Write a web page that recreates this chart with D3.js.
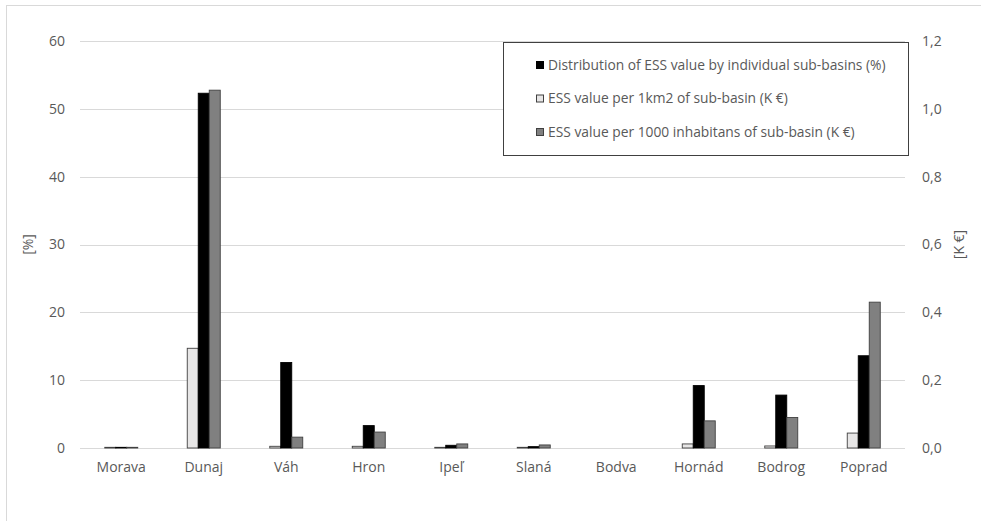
<!DOCTYPE html>
<html>
<head>
<meta charset="utf-8">
<script src="https://cdn.jsdelivr.net/npm/d3@7"></script>
<style>
  html, body { margin: 0; padding: 0; background: #fff; }
  svg { display: block; font-family: "Open Sans", "Liberation Sans", sans-serif; }
</style>
</head>
<body>
<svg id="chart" width="981" height="521"></svg>
<script>
// Sub-basins of Slovakia
const categories = ["Morava", "Dunaj", "Váh", "Hron", "Ipeľ", "Slaná", "Bodva", "Hornád", "Bodrog", "Poprad"];

// Distribution of ESS value by individual sub-basins (%), left axis
const sharePct = [0.1, 52.3, 12.6, 3.3, 0.4, 0.2, 0, 9.2, 7.8, 13.6];
// ESS value per 1 km2 of sub-basin (K €), right axis
const perKm2 = [0.002, 0.294, 0.005, 0.005, 0.002, 0.002, 0, 0.012, 0.006, 0.044];
// ESS value per 1000 inhabitants of sub-basin (K €), right axis
const perInhab = [0.002, 1.055, 0.032, 0.047, 0.012, 0.009, 0, 0.080, 0.090, 0.430];

const leftTicks = [0, 10, 20, 30, 40, 50, 60];
const rightTicks = [0, 0.2, 0.4, 0.6, 0.8, 1.0, 1.2];

const legendLabels = [
  "Distribution of ESS value by individual sub-basins (%)",
  "ESS value per 1km2 of sub-basin (K €)",
  "ESS value per 1000 inhabitans of sub-basin (K €)"
];

const svg = d3.select("#chart");
const textColor = "#595959";
const gridColor = "#d9d9d9";
const fontSize = 14;

// outer chart frame
svg.append("rect")
  .attr("x", 6.5).attr("y", 5.5)
  .attr("width", 1000).attr("height", 600)
  .attr("fill", "none").attr("stroke", gridColor);

const plot = { left: 80, right: 905, top: 41, bottom: 448 };

const x = d3.scaleBand().domain(categories).range([plot.left, plot.right]);
const yL = d3.scaleLinear().domain([0, 60]).range([plot.bottom, plot.top]);
const yR = d3.scaleLinear().domain([0, 1.2]).range([plot.bottom, plot.top]);

// gridlines
svg.append("g")
  .selectAll("line").data(leftTicks).join("line")
  .attr("x1", plot.left).attr("x2", plot.right)
  .attr("y1", d => Math.round(yL(d)) + 0.5).attr("y2", d => Math.round(yL(d)) + 0.5)
  .attr("stroke", gridColor).attr("stroke-width", 1);

// left axis
const axL = svg.append("g")
  .attr("transform", `translate(${plot.left - 15},0)`)
  .call(d3.axisLeft(yL).tickValues(leftTicks).tickSize(0).tickPadding(0).tickFormat(d3.format("d")));
axL.select(".domain").remove();
axL.selectAll("text").attr("fill", textColor).attr("font-size", fontSize).attr("font-family", "Open Sans");

// right axis
const commaFmt = d => d3.format(".1f")(d).replace(".", ",");
const axR = svg.append("g")
  .attr("transform", `translate(${plot.right + 17},0)`)
  .call(d3.axisRight(yR).tickValues(rightTicks).tickSize(0).tickPadding(0).tickFormat(commaFmt));
axR.select(".domain").remove();
axR.selectAll("text").attr("fill", textColor).attr("font-size", fontSize).attr("font-family", "Open Sans");

// category axis
const axB = svg.append("g")
  .attr("transform", `translate(0,${plot.bottom})`)
  .call(d3.axisBottom(x).tickSize(0).tickPadding(14));
axB.select(".domain").remove();
axB.selectAll("text").attr("fill", textColor).attr("font-size", fontSize).attr("font-family", "Open Sans");

// axis titles
svg.append("text")
  .attr("transform", `translate(33,${(plot.top + plot.bottom) / 2}) rotate(-90)`)
  .attr("text-anchor", "middle")
  .attr("fill", textColor).attr("font-size", fontSize)
  .text("[%]");
svg.append("text")
  .attr("transform", `translate(964,${(plot.top + plot.bottom) / 2}) rotate(-90)`)
  .attr("text-anchor", "middle")
  .attr("fill", textColor).attr("font-size", fontSize)
  .text("[K €]");

// bars: white, black, gray within each group
const barW = x.bandwidth() / 2.5 / 3;
const series = [
  { values: perKm2, scale: yR, fill: "#e7e6e6", stroke: "#404040", offset: 0 },
  { values: sharePct, scale: yL, fill: "#000000", stroke: "#000000", offset: 1 },
  { values: perInhab, scale: yR, fill: "#808080", stroke: "#404040", offset: 2 }
];

series.forEach(s => {
  svg.append("g")
    .selectAll("rect")
    .data(categories.map((c, i) => ({ c, v: s.values[i] })).filter(d => d.v > 0))
    .join("rect")
    .attr("x", d => x(d.c) + x.bandwidth() / 2 - 1.5 * barW + s.offset * barW)
    .attr("width", barW)
    .attr("y", d => s.scale(d.v))
    .attr("height", d => plot.bottom - s.scale(d.v))
    .attr("fill", s.fill)
    .attr("stroke", s.stroke)
    .attr("stroke-width", 0.9);
});

// legend
const lg = svg.append("g");
lg.append("rect")
  .attr("x", 503.5).attr("y", 42.5)
  .attr("width", 405).attr("height", 113)
  .attr("fill", "#fff").attr("stroke", "#404040");

const legendStyles = [
  { fill: "#000000", stroke: "#000000" },
  { fill: "#e7e6e6", stroke: "#404040" },
  { fill: "#808080", stroke: "#404040" }
];
legendLabels.forEach((label, i) => {
  const cy = 65 + i * 33.5;
  lg.append("rect")
    .attr("x", 536.5).attr("y", cy - 3.5)
    .attr("width", 7).attr("height", 7)
    .attr("fill", legendStyles[i].fill).attr("stroke", legendStyles[i].stroke);
  lg.append("text")
    .attr("x", 548).attr("y", cy)
    .attr("dy", "0.35em")
    .attr("fill", textColor).attr("font-size", 13.8)
    .text(label);
});
</script>
</body>
</html>
